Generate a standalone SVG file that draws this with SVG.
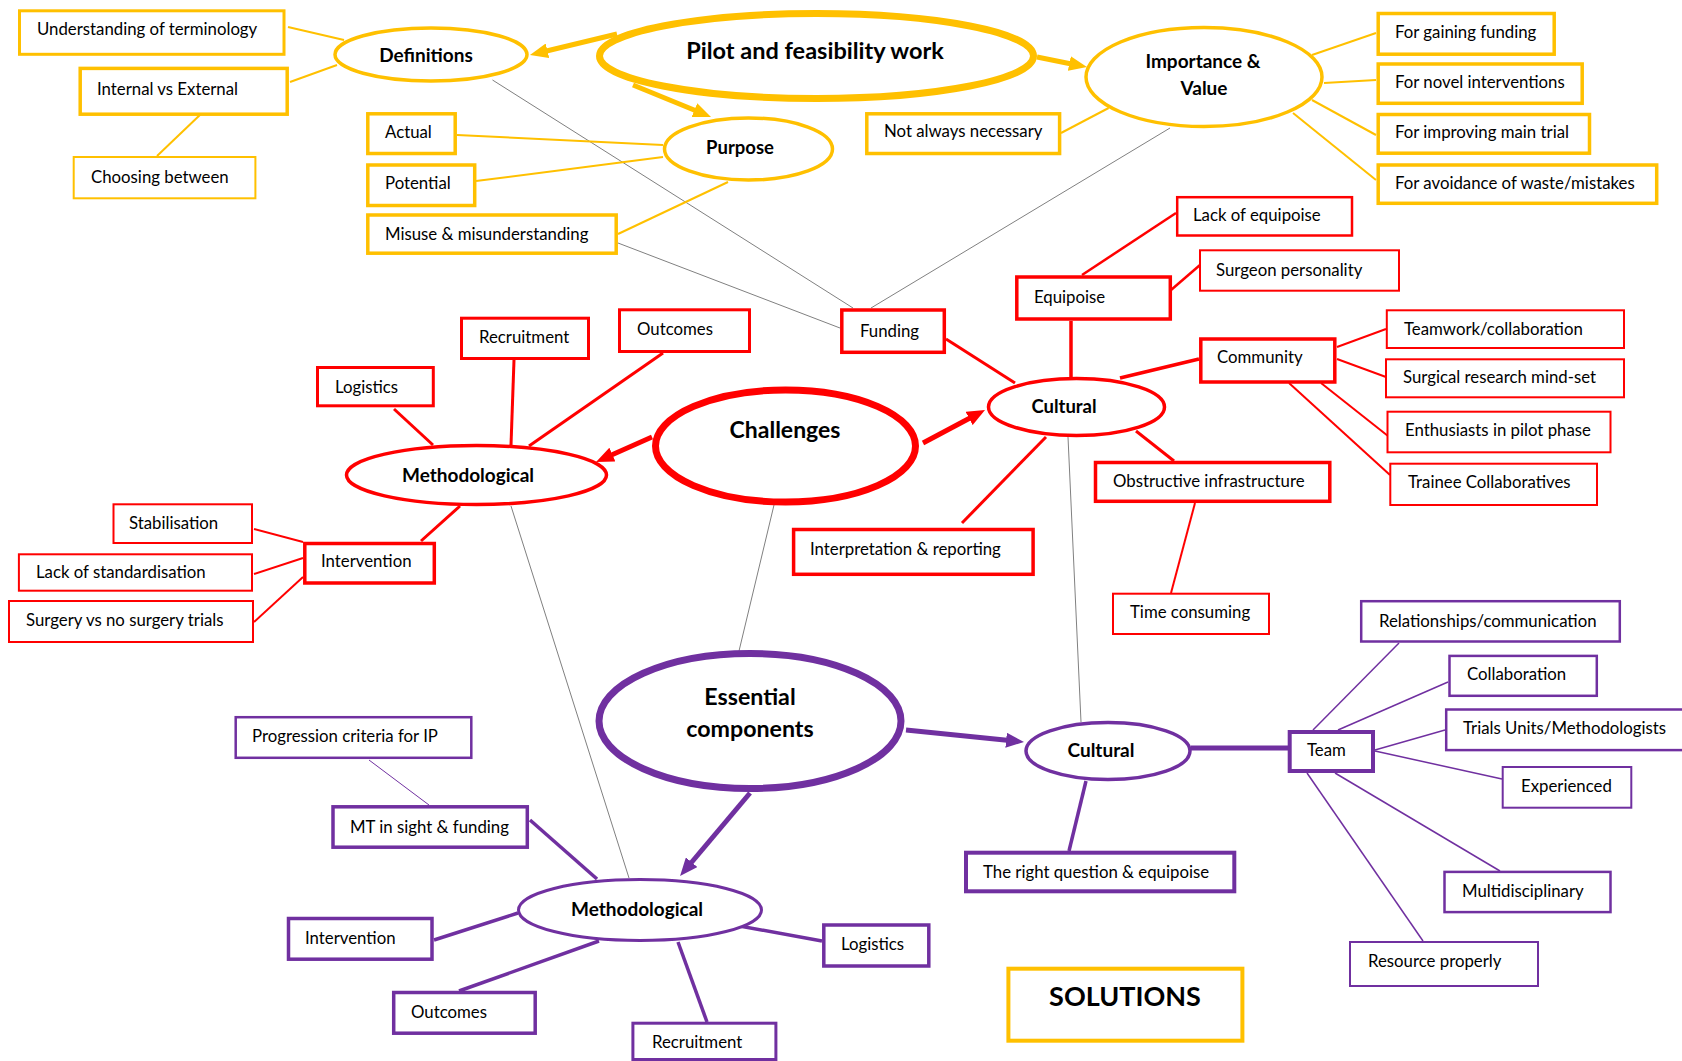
<svg xmlns="http://www.w3.org/2000/svg" width="1682" height="1061" viewBox="0 0 1682 1061">
  <style>
    text { font-family: Lato, "Open Sans", "Liberation Sans", sans-serif; fill: #000; }
    .t { font-size: 16.8px; }
    .h { font-weight: bold; text-anchor: middle; }
    .box { fill: #fff; }
    .y { stroke: #FFC000; }
    .r { stroke: #FF0000; }
    .p { stroke: #7030A0; }
    .n { fill: #fff; }
    #connectors line { fill: none; stroke-linecap: butt; }
    .g { stroke: #808080; stroke-width: 1; }
  </style>
  <defs>
    <marker id="ah-y" markerUnits="userSpaceOnUse" markerWidth="18" markerHeight="15" viewBox="0 0 18 15" refX="1" refY="7.5" orient="auto">
      <path d="M0,0 L18,7.5 L0,15 z" fill="#FFC000"/>
    </marker>
    <marker id="ah-r" markerUnits="userSpaceOnUse" markerWidth="18" markerHeight="15" viewBox="0 0 18 15" refX="1" refY="7.5" orient="auto">
      <path d="M0,0 L18,7.5 L0,15 z" fill="#FF0000"/>
    </marker>
    <marker id="ah-p" markerUnits="userSpaceOnUse" markerWidth="18" markerHeight="15" viewBox="0 0 18 15" refX="1" refY="7.5" orient="auto">
      <path d="M0,0 L18,7.5 L0,15 z" fill="#7030A0"/>
    </marker>
  </defs>

  <rect width="1682" height="1061" fill="#fff"/>

  <!-- connectors -->
  <g id="connectors">
    <!-- grey cross-links -->
    <line class="g" x1="492.5" y1="80" x2="853" y2="308"/>
    <line class="g" x1="618" y1="243" x2="840" y2="328"/>
    <line class="g" x1="871" y1="308" x2="1170" y2="128"/>
    <line class="g" x1="774" y1="505" x2="739" y2="651"/>
    <line class="g" x1="1068" y1="437" x2="1081" y2="722"/>
    <line class="g" x1="511" y1="506" x2="629" y2="878"/>

    <!-- yellow: pilot and feasibility -->
    <line class="y" stroke-width="5" x1="617" y1="34" x2="546.5" y2="51" marker-end="url(#ah-y)"/>
    <line class="y" stroke-width="5" x1="633" y1="85" x2="695.3" y2="110.5" marker-end="url(#ah-y)"/>
    <line class="y" stroke-width="5" x1="1037" y1="57" x2="1070.3" y2="63.7" marker-end="url(#ah-y)"/>
    <line class="y" stroke-width="2" x1="288" y1="27" x2="344" y2="40"/>
    <line class="y" stroke-width="2" x1="290" y1="82" x2="337" y2="65"/>
    <line class="y" stroke-width="2" x1="157" y1="156" x2="202" y2="113"/>
    <line class="y" stroke-width="2" x1="457" y1="135" x2="663" y2="145"/>
    <line class="y" stroke-width="2" x1="476" y1="181" x2="663" y2="157"/>
    <line class="y" stroke-width="2" x1="618" y1="234" x2="728" y2="182"/>
    <line class="y" stroke-width="2" x1="1061" y1="133" x2="1108.6" y2="108"/>
    <line class="y" stroke-width="2" x1="1312" y1="55" x2="1376" y2="33"/>
    <line class="y" stroke-width="2" x1="1324" y1="83" x2="1376" y2="80"/>
    <line class="y" stroke-width="2" x1="1312" y1="100" x2="1376" y2="135"/>
    <line class="y" stroke-width="2" x1="1293" y1="113" x2="1376" y2="180"/>

    <!-- red: challenges -->
    <line class="r" stroke-width="5" x1="652" y1="437" x2="611.5" y2="455" marker-end="url(#ah-r)"/>
    <line class="r" stroke-width="5" x1="923" y1="443" x2="970" y2="418" marker-end="url(#ah-r)"/>
    <line class="r" stroke-width="3" x1="394" y1="409" x2="433" y2="445"/>
    <line class="r" stroke-width="3" x1="514" y1="360" x2="511" y2="445"/>
    <line class="r" stroke-width="3" x1="663" y1="353" x2="529" y2="446"/>
    <line class="r" stroke-width="3" x1="460" y1="506" x2="421" y2="541"/>
    <line class="r" stroke-width="2" x1="254" y1="529" x2="303" y2="542"/>
    <line class="r" stroke-width="2" x1="254" y1="574" x2="303" y2="558"/>
    <line class="r" stroke-width="2" x1="254" y1="622" x2="303" y2="577"/>
    <line class="r" stroke-width="3" x1="946" y1="339" x2="1015" y2="383"/>
    <line class="r" stroke-width="3.5" x1="1071" y1="321" x2="1071" y2="377"/>
    <line class="r" stroke-width="2.5" x1="1082" y1="275" x2="1176" y2="213"/>
    <line class="r" stroke-width="2.5" x1="1171" y1="290" x2="1200" y2="265"/>
    <line class="r" stroke-width="3.5" x1="1120" y1="378" x2="1199" y2="359"/>
    <line class="r" stroke-width="2" x1="1337" y1="347" x2="1386" y2="329"/>
    <line class="r" stroke-width="2" x1="1337" y1="359" x2="1386" y2="377"/>
    <line class="r" stroke-width="2" x1="1321" y1="383" x2="1388" y2="436"/>
    <line class="r" stroke-width="2" x1="1289" y1="383" x2="1390" y2="475"/>
    <line class="r" stroke-width="3" x1="1136" y1="431" x2="1174" y2="461"/>
    <line class="r" stroke-width="2" x1="1195" y1="503" x2="1171" y2="593"/>
    <line class="r" stroke-width="3" x1="1046" y1="437" x2="962" y2="523"/>

    <!-- purple: essential components -->
    <line class="p" stroke-width="5" x1="906" y1="730" x2="1007.1" y2="740.3" marker-end="url(#ah-p)"/>
    <line class="p" stroke-width="5" x1="750" y1="793" x2="691" y2="863" marker-end="url(#ah-p)"/>
    <line class="p" stroke-width="5" x1="1191" y1="748" x2="1288" y2="748"/>
    <line class="p" stroke-width="3.5" x1="1086" y1="781" x2="1069" y2="851"/>
    <line class="p" stroke-width="1.5" x1="1313" y1="730" x2="1399" y2="643"/>
    <line class="p" stroke-width="1.5" x1="1338" y1="730" x2="1448" y2="682"/>
    <line class="p" stroke-width="1.5" x1="1375" y1="750" x2="1445" y2="730"/>
    <line class="p" stroke-width="1.5" x1="1375" y1="751" x2="1502" y2="779"/>
    <line class="p" stroke-width="1.5" x1="1335" y1="773" x2="1500" y2="871"/>
    <line class="p" stroke-width="1.5" x1="1307" y1="773" x2="1423" y2="941"/>
    <line class="p" stroke-width="3.5" x1="734" y1="925" x2="822" y2="941"/>
    <line class="p" stroke-width="3.5" x1="678" y1="942" x2="707" y2="1022"/>
    <line class="p" stroke-width="3.5" x1="530" y1="820" x2="597" y2="879"/>
    <line class="p" stroke-width="1" x1="369" y1="760" x2="429" y2="805"/>
    <line class="p" stroke-width="3.5" x1="434" y1="940" x2="518" y2="913"/>
    <line class="p" stroke-width="3.5" x1="459" y1="991" x2="599" y2="941"/>
  </g>

  <!-- pilot and feasibility work (yellow) -->
  <g id="pilot"><ellipse class="n y" stroke-width="7" cx="816.5" cy="56" rx="217" ry="42.5"/><text class="h" x="815" y="59" font-size="23.5">Pilot and feasibility work</text></g>
  <g id="definitions"><ellipse class="n y" stroke-width="3.5" cx="431" cy="54.5" rx="96" ry="26.5"/><text class="h" x="426" y="62" font-size="19">Definitions</text></g>
  <g id="purpose"><ellipse class="n y" stroke-width="3.5" cx="748.5" cy="149" rx="84" ry="31"/><text class="h" x="740" y="154" font-size="18.5">Purpose</text></g>
  <g id="importance"><ellipse class="n y" stroke-width="3.5" cx="1204" cy="77" rx="118" ry="49.5"/><text class="h" x="1203" y="68" font-size="19">Importance &amp;</text><text class="h" x="1204" y="95" font-size="19">Value</text></g>
  <g id="understanding"><rect class="box y" stroke-width="3" x="19.5" y="10.8" width="264.5" height="43.5"/><text class="t" x="37" y="35">Understanding of terminology</text></g>
  <g id="internal-external"><rect class="box y" stroke-width="3.5" x="80.2" y="68.4" width="207" height="45.8"/><text class="t" x="97" y="95">Internal vs External</text></g>
  <g id="choosing"><rect class="box y" stroke-width="2" x="73.7" y="157" width="181.7" height="41.3"/><text class="t" x="91" y="183">Choosing between</text></g>
  <g id="actual"><rect class="box y" stroke-width="3.5" x="367.8" y="113.8" width="87.4" height="39.7"/><text class="t" x="385" y="138">Actual</text></g>
  <g id="potential"><rect class="box y" stroke-width="3.5" x="367.8" y="165" width="106.9" height="40.5"/><text class="t" x="385" y="189">Potential</text></g>
  <g id="misuse"><rect class="box y" stroke-width="3.5" x="367.8" y="215" width="248.4" height="38.2"/><text class="t" x="385" y="240">Misuse &amp; misunderstanding</text></g>
  <g id="not-necessary"><rect class="box y" stroke-width="3.5" x="866.8" y="113.8" width="192.8" height="39.7"/><text class="t" x="884" y="137">Not always necessary</text></g>
  <g id="funding-gain"><rect class="box y" stroke-width="3.5" x="1378.2" y="13.5" width="176" height="40.7"/><text class="t" x="1395" y="38">For gaining funding</text></g>
  <g id="novel"><rect class="box y" stroke-width="3.5" x="1378.2" y="64" width="204" height="39.3"/><text class="t" x="1395" y="88">For novel interventions</text></g>
  <g id="improving"><rect class="box y" stroke-width="3.5" x="1378.2" y="114.5" width="211.3" height="38.7"/><text class="t" x="1395" y="138">For improving main trial</text></g>
  <g id="avoidance"><rect class="box y" stroke-width="3.5" x="1378.2" y="165" width="278.5" height="38.3"/><text class="t" x="1395" y="189">For avoidance of waste/mistakes</text></g>

  <!-- challenges (red) -->
  <g id="challenges"><ellipse class="n r" stroke-width="7" cx="785.5" cy="446" rx="130" ry="56"/><text class="h" x="785" y="438" font-size="23">Challenges</text></g>
  <g id="ch-methodological"><ellipse class="n r" stroke-width="3.5" cx="476.5" cy="475" rx="130" ry="29.5"/><text class="h" x="468" y="482" font-size="19">Methodological</text></g>
  <g id="ch-cultural"><ellipse class="n r" stroke-width="3.5" cx="1076.5" cy="407" rx="88" ry="28.5"/><text class="h" x="1064" y="413" font-size="18.5">Cultural</text></g>
  <g id="ch-logistics"><rect class="box r" stroke-width="3" x="317.5" y="367.5" width="115.8" height="38.3"/><text class="t" x="335" y="393">Logistics</text></g>
  <g id="ch-recruitment"><rect class="box r" stroke-width="3" x="461.5" y="318.2" width="127" height="40.3"/><text class="t" x="479" y="343">Recruitment</text></g>
  <g id="ch-outcomes"><rect class="box r" stroke-width="3" x="619.5" y="309.8" width="130" height="41.7"/><text class="t" x="637" y="335">Outcomes</text></g>
  <g id="ch-intervention"><rect class="box r" stroke-width="3.5" x="304.8" y="543.5" width="129.5" height="39.5"/><text class="t" x="321" y="567">Intervention</text></g>
  <g id="stabilisation"><rect class="box r" stroke-width="2" x="113.5" y="504.3" width="138.5" height="38.7"/><text class="t" x="129" y="529">Stabilisation</text></g>
  <g id="standardisation"><rect class="box r" stroke-width="2" x="18.9" y="554.3" width="233.1" height="36.4"/><text class="t" x="36" y="578">Lack of standardisation</text></g>
  <g id="surgery-trials"><rect class="box r" stroke-width="2" x="9" y="601" width="244" height="41"/><text class="t" x="26" y="626">Surgery vs no surgery trials</text></g>
  <g id="funding"><rect class="box r" stroke-width="3.5" x="841.8" y="310" width="102.5" height="42.3"/><text class="t" x="860" y="337">Funding</text></g>
  <g id="equipoise"><rect class="box r" stroke-width="3.5" x="1016.8" y="277" width="153.5" height="42"/><text class="t" x="1034" y="303">Equipoise</text></g>
  <g id="lack-equipoise"><rect class="box r" stroke-width="2.5" x="1177.2" y="197.2" width="174.8" height="38.3"/><text class="t" x="1193" y="221">Lack of equipoise</text></g>
  <g id="surgeon"><rect class="box r" stroke-width="2" x="1200" y="250.3" width="199" height="40.4"/><text class="t" x="1216" y="276">Surgeon personality</text></g>
  <g id="community"><rect class="box r" stroke-width="3.5" x="1200.8" y="339" width="134" height="43"/><text class="t" x="1217" y="363">Community</text></g>
  <g id="teamwork"><rect class="box r" stroke-width="2" x="1386.8" y="310.3" width="237.2" height="37.7"/><text class="t" x="1404" y="335">Teamwork/collaboration</text></g>
  <g id="mind-set"><rect class="box r" stroke-width="2" x="1386" y="359.3" width="238" height="38"/><text class="t" x="1403" y="383">Surgical research mind-set</text></g>
  <g id="enthusiasts"><rect class="box r" stroke-width="2" x="1387.5" y="411.7" width="223" height="40.6"/><text class="t" x="1405" y="436">Enthusiasts in pilot phase</text></g>
  <g id="trainee"><rect class="box r" stroke-width="2" x="1390.3" y="463.7" width="206.7" height="41.3"/><text class="t" x="1408" y="488">Trainee Collaboratives</text></g>
  <g id="obstructive"><rect class="box r" stroke-width="3.5" x="1095.5" y="462.5" width="234.3" height="38.8"/><text class="t" x="1113" y="487">Obstructive infrastructure</text></g>
  <g id="time-consuming"><rect class="box r" stroke-width="2" x="1113" y="593.7" width="156" height="40.3"/><text class="t" x="1130" y="618">Time consuming</text></g>
  <g id="interpretation"><rect class="box r" stroke-width="3.5" x="793.6" y="529.5" width="239.5" height="44.8"/><text class="t" x="810" y="555">Interpretation &amp; reporting</text></g>

  <!-- essential components (purple) -->
  <g id="essential"><ellipse class="n p" stroke-width="7" cx="750" cy="721" rx="151" ry="67.5"/><text class="h" x="750" y="705" font-size="23.2">Essential</text><text class="h" x="750" y="737" font-size="23.2">components</text></g>
  <g id="ec-cultural"><ellipse class="n p" stroke-width="3.5" cx="1108" cy="751" rx="82" ry="28.5"/><text class="h" x="1101" y="757" font-size="19">Cultural</text></g>
  <g id="ec-methodological"><ellipse class="n p" stroke-width="3" cx="640" cy="910" rx="121.5" ry="30.5"/><text class="h" x="637" y="916" font-size="19">Methodological</text></g>
  <g id="team"><rect class="box p" stroke-width="4" x="1289.7" y="732" width="83.3" height="39"/><text class="t" x="1307" y="756">Team</text></g>
  <g id="relationships"><rect class="box p" stroke-width="2.5" x="1361.2" y="601.2" width="258.6" height="40.3"/><text class="t" x="1379" y="627">Relationships/communication</text></g>
  <g id="collaboration"><rect class="box p" stroke-width="2.5" x="1449.5" y="655.9" width="147.3" height="39.9"/><text class="t" x="1467" y="680">Collaboration</text></g>
  <g id="trials-units"><rect class="box p" stroke-width="2.5" x="1446.2" y="709.5" width="250" height="40.6"/><text class="t" x="1463" y="734">Trials Units/Methodologists</text></g>
  <g id="experienced"><rect class="box p" stroke-width="2" x="1502.7" y="767" width="128.6" height="40.7"/><text class="t" x="1521" y="792">Experienced</text></g>
  <g id="multidisciplinary"><rect class="box p" stroke-width="2.5" x="1444.5" y="871.9" width="166" height="40.2"/><text class="t" x="1462" y="897">Multidisciplinary</text></g>
  <g id="resource"><rect class="box p" stroke-width="2" x="1350" y="942" width="188" height="44"/><text class="t" x="1368" y="967">Resource properly</text></g>
  <g id="right-question"><rect class="box p" stroke-width="4" x="966" y="852.7" width="268.3" height="38.6"/><text class="t" x="983" y="878">The right question &amp; equipoise</text></g>
  <g id="progression"><rect class="box p" stroke-width="2.5" x="235.7" y="717.2" width="235.6" height="40.6"/><text class="t" x="252" y="742">Progression criteria for IP</text></g>
  <g id="mt-in-sight"><rect class="box p" stroke-width="3.5" x="333" y="806.8" width="194.3" height="40.4"/><text class="t" x="350" y="833">MT in sight &amp; funding</text></g>
  <g id="ec-intervention"><rect class="box p" stroke-width="3.5" x="288.5" y="918.5" width="143.5" height="40.7"/><text class="t" x="305" y="944">Intervention</text></g>
  <g id="ec-outcomes"><rect class="box p" stroke-width="3.5" x="393.7" y="992.5" width="141.5" height="40.7"/><text class="t" x="411" y="1018">Outcomes</text></g>
  <g id="ec-logistics"><rect class="box p" stroke-width="3.5" x="823.8" y="925" width="105" height="41"/><text class="t" x="841" y="950">Logistics</text></g>
  <g id="ec-recruitment"><rect class="box p" stroke-width="3" x="632.9" y="1023.2" width="143" height="36.3"/><text class="t" x="652" y="1048">Recruitment</text></g>

  <!-- legend -->
  <g id="solutions"><rect class="box y" stroke-width="4" x="1008.4" y="968.7" width="234" height="72"/><text class="h" x="1125" y="1006" font-size="27">SOLUTIONS</text></g>
</svg>
